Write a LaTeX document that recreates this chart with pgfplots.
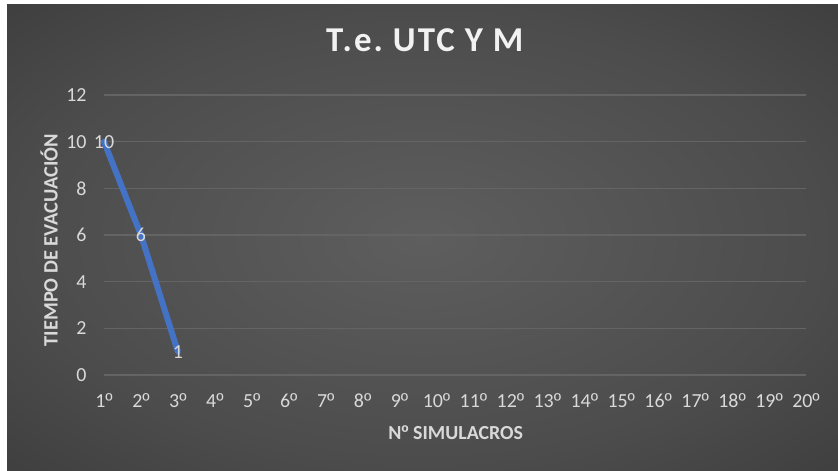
\documentclass[border=0pt]{standalone}
\usepackage{fontspec}
\setmainfont{Carlito}
\newfontfamily\ordf{Liberation Sans}
\newcommand{\ordm}{{\ordf º}}
\usepackage{pgfplots}
\pgfplotsset{compat=1.18}
\definecolor{bgA}{RGB}{94,94,94}
\definecolor{bgB}{RGB}{76,76,76}
\definecolor{bgC}{RGB}{47,47,47}
\definecolor{bgD}{RGB}{36,36,36}
\definecolor{txt}{RGB}{217,217,217}
\definecolor{ttl}{RGB}{242,242,242}
\definecolor{grid}{RGB}{100,100,100}
\definecolor{serie}{RGB}{68,114,196}
\pgfdeclareradialshading{bgshade}{\pgfpoint{0bp}{0bp}}{color(0bp)=(bgA); color(24bp)=(bgB); color(50bp)=(bgC); color(71bp)=(bgD)}
\begin{document}
\begin{tikzpicture}
\useasboundingbox (0,0) rectangle (838bp,471bp);
\fill[white] (0,0) rectangle (838bp,471bp);
\shade[shading=bgshade] (7bp,0) rectangle (838bp,466bp);
\begin{axis}[
  scale only axis,
  width=702bp, height=280bp,
  at={(104bp,96bp)}, anchor=south west,
  xmin=1, xmax=20, ymin=0, ymax=12,
  xtick={1,...,20},
  xticklabels={1\ordm,2\ordm,3\ordm,4\ordm,5\ordm,6\ordm,7\ordm,8\ordm,9\ordm,10\ordm,11\ordm,12\ordm,13\ordm,14\ordm,15\ordm,16\ordm,17\ordm,18\ordm,19\ordm,20\ordm},
  ytick={0,2,4,6,8,10,12},
  /pgf/number format/assume math mode=true,
  axis line style={draw=none},
  major tick length=0pt,
  ymajorgrids,
  major grid style={draw=grid, line width=1.6bp},
  ticklabel style={font=\fontsize{20}{24}\selectfont, text=txt},
  xticklabel style={yshift=-15bp},
  yticklabel style={xshift=-14bp},
  title={T.e.\ UTC Y M},
  title style={at={(axis description cs:0.457,1.175)}, anchor=center, font=\addfontfeature{LetterSpace=6}\fontsize{35}{40}\selectfont\bfseries, text=ttl},
  xlabel={N\ordm\ SIMULACROS},
  xlabel style={at={(axis description cs:0.501,-0.207)}, anchor=center, font=\fontsize{20}{24}\selectfont\bfseries, text=txt},
  ylabel={TIEMPO DE EVACUACIÓN},
  ylabel style={at={(axis description cs:-0.078,0.482)}, anchor=center, rotate=0, font=\fontsize{20.5}{24}\selectfont\bfseries, text=txt},
  clip=false,
]
\addplot[serie, line width=6bp, line cap=round, line join=round,
  nodes near coords,
  every node near coord/.append style={anchor=center, font=\fontsize{20}{24}\selectfont, text=txt},
] coordinates {(1,10) (2,6) (3,1)};
\end{axis}
\end{tikzpicture}
\end{document}
